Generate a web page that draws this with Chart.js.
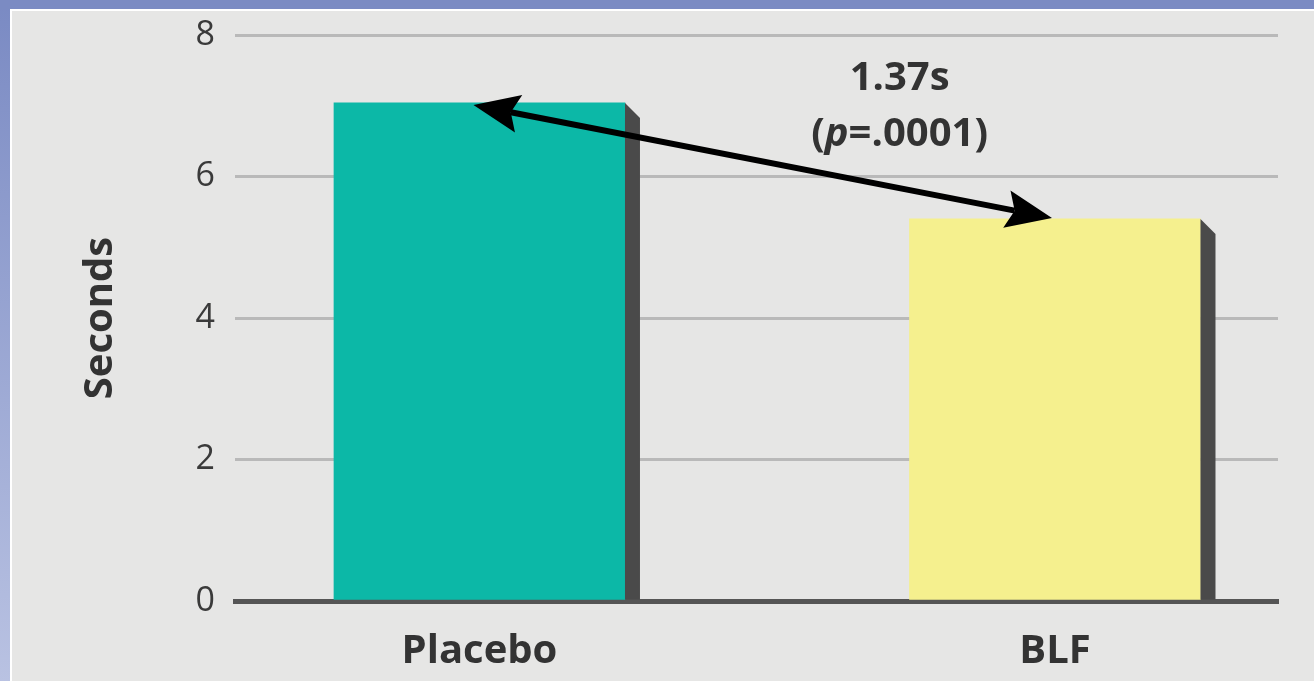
<!DOCTYPE html>
<html>
<head>
<meta charset="utf-8">
<script src="https://cdn.jsdelivr.net/npm/chart.js@4"></script>
<style>
  html, body { margin: 0; padding: 0; }
  body {
    width: 1314px; height: 681px; overflow: hidden; position: relative;
    background: linear-gradient(to bottom, #7a8ac3 0%, #b9c2e2 100%);
  }
  #topband { position: absolute; left: 0; top: 0; width: 1314px; height: 9px; background: #7b8bc3; }
  #frame {
    position: absolute; left: 10px; top: 9px; width: 1302px; height: 670px;
    border-left: 2px solid #ffffff; border-top: 2px solid #ffffff;
    background: #e6e6e5;
  }
  #wrap { position: relative; width: 1302px; height: 670px; }
</style>
</head>
<body>
<div id="topband"></div>
<div id="frame"><div id="wrap"><canvas id="c"></canvas></div></div>
<script>
// ---- data ----
const categories = ['Placebo', 'BLF'];
const seconds = [7.04, 5.40];
const barColors = ['#0cb8a7', '#f5f08e'];
const yTicks = [0, 2, 4, 6, 8];
const annotationLine1 = '1.37s';
const annotationLine2 = ['(', 'p', '=.0001)'];

const FONT = '"Open Sans", "DejaVu Sans", sans-serif';
const TEXT = '#333333';

const decorPlugin = {
  id: 'decor',
  afterDatasetsDraw(chart) {
    const ctx = chart.ctx;
    const meta = chart.getDatasetMeta(0);
    const xs = chart.scales.x, ys = chart.scales.y;
    ctx.save();
    // bar side shadows
    ctx.fillStyle = '#4a4a4a';
    meta.data.forEach(el => {
      const p = el.getProps(['x', 'y', 'base', 'width'], true);
      const r = p.x + p.width / 2;
      ctx.beginPath();
      ctx.moveTo(r, p.y);
      ctx.lineTo(r + 15, p.y + 15);
      ctx.lineTo(r + 15, p.base);
      ctx.lineTo(r, p.base);
      ctx.closePath();
      ctx.fill();
    });
    // double arrow between bar tops
    const a = meta.data[0].getProps(['x', 'y'], true);
    const b = meta.data[1].getProps(['x', 'y'], true);
    const x1 = a.x - 6, y1 = a.y + 2, x2 = b.x - 3, y2 = b.y - 1;
    const ang = Math.atan2(y2 - y1, x2 - x1);
    const L = 46, W = 19, notch = 8;
    const ux = Math.cos(ang), uy = Math.sin(ang);
    const nx = -uy, ny = ux;
    ctx.strokeStyle = '#000';
    ctx.fillStyle = '#000';
    ctx.lineWidth = 6;
    ctx.beginPath();
    ctx.moveTo(x1 + ux * (L - notch), y1 + uy * (L - notch));
    ctx.lineTo(x2 - ux * (L - notch), y2 - uy * (L - notch));
    ctx.stroke();
    function head(tx, ty, dx, dy) {
      ctx.beginPath();
      ctx.moveTo(tx, ty);
      ctx.lineTo(tx + dx * L + nx * W, ty + dy * L + ny * W);
      ctx.lineTo(tx + dx * (L - notch), ty + dy * (L - notch));
      ctx.lineTo(tx + dx * L - nx * W, ty + dy * L - ny * W);
      ctx.closePath();
      ctx.fill();
    }
    head(x1, y1, ux, uy);
    head(x2, y2, -ux, -uy);
    // annotation text
    const cx = xs.getPixelForValue(0.73);
    ctx.fillStyle = TEXT;
    ctx.textBaseline = 'middle';
    ctx.textAlign = 'center';
    ctx.font = 'bold 40px ' + FONT;
    ctx.fillText(annotationLine1, cx, ys.getPixelForValue(7.39));
    const fonts = ['bold 40px ' + FONT, 'italic bold 40px ' + FONT, 'bold 40px ' + FONT];
    let total = 0;
    const widths = annotationLine2.map((t, i) => { ctx.font = fonts[i]; const w = ctx.measureText(t).width; total += w; return w; });
    let x = cx - total / 2;
    ctx.textAlign = 'left';
    const y2t = ys.getPixelForValue(6.59);
    annotationLine2.forEach((t, i) => { ctx.font = fonts[i]; ctx.fillText(t, x, y2t); x += widths[i]; });
    ctx.restore();
  }
};

new Chart(document.getElementById('c'), {
  type: 'bar',
  data: {
    datasets: [{
      data: categories.map((c, i) => ({ x: i, y: seconds[i] })),
      backgroundColor: barColors,
      borderWidth: 0,
      barThickness: 291
    }]
  },
  options: {
    responsive: true,
    maintainAspectRatio: false,
    animation: false,
    layout: { padding: { left: 0, top: 24, right: 36, bottom: 0 } },
    plugins: { legend: { display: false }, tooltip: { enabled: false } },
    scales: {
      x: {
        type: 'linear',
        offset: false,
        min: -0.4248,
        max: 1.3875,
        z: 1,
        afterBuildTicks: s => { s.ticks = categories.map((c, i) => ({ value: i })); },
        afterFit: s => { s.height = 80; },
        ticks: {
          callback: v => categories[v],
          font: { family: FONT, size: 40, weight: 'bold', lineHeight: 1.2 },
          color: TEXT,
          padding: 27,
          autoSkip: false,
          maxRotation: 0
        },
        grid: { display: false, drawTicks: false, offset: false },
        border: { display: true, color: '#555555', width: 5 }
      },
      y: {
        min: 0,
        max: 8,
        afterBuildTicks: s => { s.ticks = yTicks.map(v => ({ value: v })); },
        afterFit: s => { s.width = 223; },
        ticks: {
          font: { family: FONT, size: 34, lineHeight: 0.05 },
          color: '#3a3a3a',
          padding: 20
        },
        grid: {
          color: c => (c.tick && c.tick.value === 0) ? 'rgba(0,0,0,0)' : '#b9b9b9',
          lineWidth: 3,
          drawTicks: false
        },
        border: { display: false },
        title: {
          display: true,
          text: 'Seconds',
          font: { family: FONT, size: 40, weight: 'bold', lineHeight: 1 },
          color: TEXT,
          padding: { top: 69, bottom: 0 }
        }
      }
    }
  },
  plugins: [decorPlugin]
});
</script>
</body>
</html>
